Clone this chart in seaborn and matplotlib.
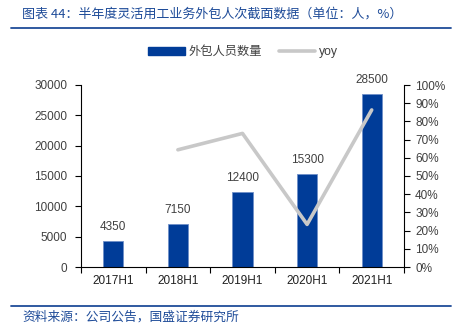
import numpy as np
import pandas as pd
import matplotlib
matplotlib.use("Agg")
import matplotlib.pyplot as plt
import seaborn as sns
from matplotlib.lines import Line2D
from matplotlib.patches import Patch
from matplotlib.ticker import FuncFormatter, MultipleLocator

periods = ["2017H1", "2018H1", "2019H1", "2020H1", "2021H1"]
headcount = [4350, 7150, 12400, 15300, 28500]
yoy = [np.nan, 0.644, 0.734, 0.234, 0.863]

title_text = "图表 44：半年度灵活用工业务外包人次截面数据（单位：人，%）"
source_text = "资料来源：公司公告，国盛证券研究所"
bar_label = "外包人员数量"
line_label = "yoy"

sns.set_theme(style="white")
plt.rcParams["font.family"] = ["Liberation Sans", "Noto Sans CJK SC", "DejaVu Sans"]

BLUE = "#003C98"
GREY = "#C8C8C8"
TXT = "#404040"
TITLE_BLUE = "#1F4C99"

df = pd.DataFrame({"period": periods, "headcount": headcount, "yoy": yoy})

fig = plt.figure(figsize=(4.57, 3.32), dpi=100)
ax = fig.add_axes([81 / 457, 1 - 267 / 332, (404 - 81) / 457, (267 - 85) / 332])

sns.barplot(data=df, x="period", y="headcount", color=BLUE, width=0.31,
            edgecolor="#6F8FC8", linewidth=0.6, saturation=1, ax=ax)
ax.set_xlim(-0.5, 4.5)
ax.set_ylim(0, 30000)
ax.yaxis.set_major_locator(MultipleLocator(5000))
ax.set_xlabel("")
ax.set_ylabel("")

for i, v in enumerate(headcount):
    ax.text(i, v + 1300, f"{v}", ha="center", va="bottom", fontsize=8.5, color=TXT)

ax2 = ax.twinx()
sns.lineplot(x=np.arange(len(periods)), y=df["yoy"], color=GREY, linewidth=2.6,
             ax=ax2, legend=False)
ax2.set_ylim(0, 1.0)
ax2.yaxis.set_major_locator(MultipleLocator(0.1))
ax2.yaxis.set_major_formatter(FuncFormatter(lambda v, p: f"{v * 100:.0f}%"))
ax2.set_ylabel("")
ax2.set_xlim(-0.5, 4.5)

for a in (ax, ax2):
    a.spines["top"].set_visible(False)
    for s in a.spines.values():
        s.set_color("#000000")
        s.set_linewidth(0.8)
ax.spines["right"].set_visible(False)
ax2.spines["left"].set_visible(False)
ax2.spines["bottom"].set_visible(False)

ax.tick_params(axis="y", which="major", direction="out", length=4, width=0.8,
               color="black", labelsize=8.5, labelcolor=TXT, pad=6, left=True)
ax2.tick_params(axis="y", which="major", direction="out", length=4, width=0.8,
                color="black", labelsize=8.5, labelcolor=TXT, pad=4, right=True)
# category ticks sit on the boundaries between bars
ax.set_xticks(np.arange(len(periods)))
ax.set_xticklabels(periods)
ax.set_xticks(np.arange(-0.5, len(periods)), minor=True)
ax.tick_params(axis="x", which="major", length=0, labelsize=8.5, labelcolor="#202020", pad=6)
ax.tick_params(axis="x", which="minor", bottom=True, direction="out", length=4,
               width=0.8, color="black")

handles = [Patch(facecolor=BLUE, edgecolor=BLUE),
           Line2D([], [], color=GREY, linewidth=2.6)]
fig.legend(handles, [bar_label, line_label], loc="center", ncol=2,
           bbox_to_anchor=(243 / 457, 1 - 52 / 332), frameon=False,
           fontsize=8.8, labelcolor=TXT, handlelength=3.0, handleheight=0.6,
           columnspacing=1.4, handletextpad=0.3)

fig.text(22 / 457, 1 - 14 / 332, title_text, ha="left", va="center",
         fontsize=9.4, color=TITLE_BLUE, style="italic",
         family=["Noto Sans CJK SC", "DejaVu Sans"])
fig.add_artist(Line2D([11 / 457, 451 / 457], [1 - 27.5 / 332] * 2,
                      color=TITLE_BLUE, linewidth=1.3))
fig.add_artist(Line2D([11 / 457, 451 / 457], [1 - 305.5 / 332] * 2,
                      color=TITLE_BLUE, linewidth=1.3))
fig.text(22 / 457, 1 - 317 / 332, source_text, ha="left", va="center",
         fontsize=9.2, color=TITLE_BLUE, style="italic",
         family=["Noto Sans CJK SC", "DejaVu Sans"])

fig.savefig("out.png", dpi=100)
